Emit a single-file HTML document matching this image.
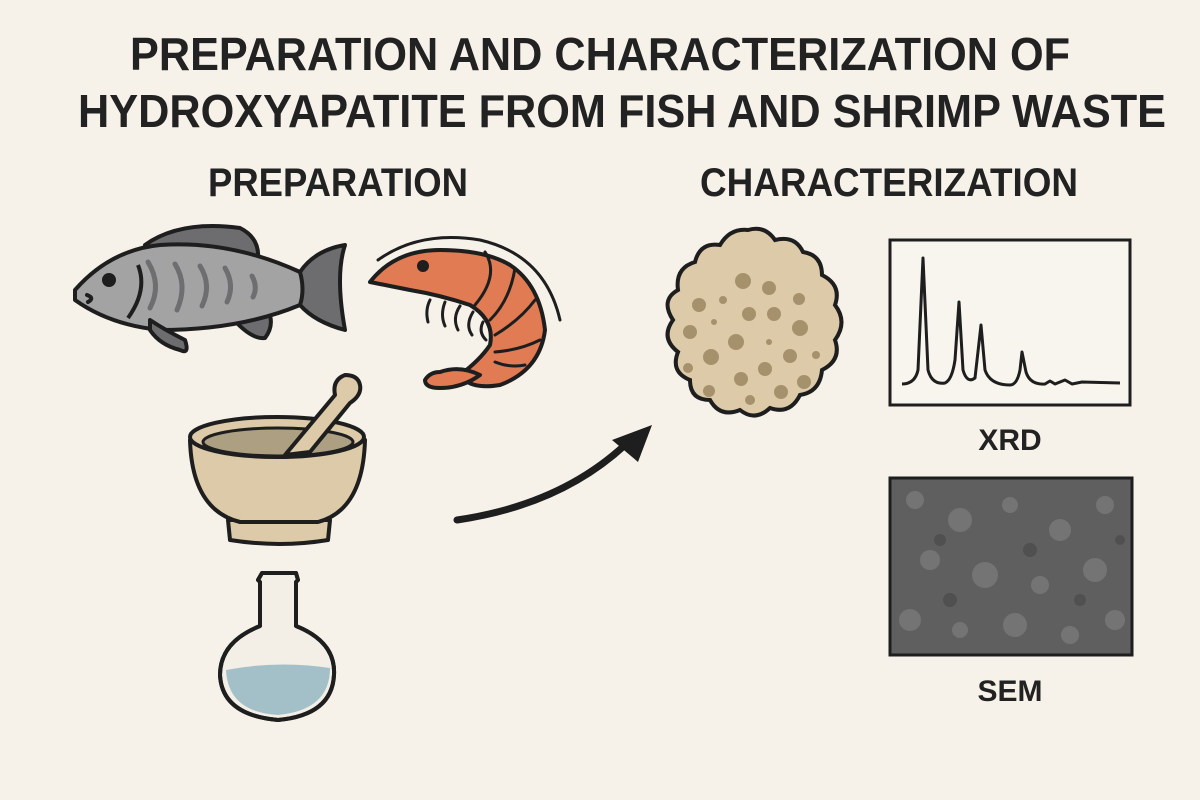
<!DOCTYPE html>
<html><head><meta charset="utf-8"><style>
html,body{margin:0;padding:0;background:#f6f2e9;}
svg{display:block}
text{font-family:"Liberation Sans",sans-serif;font-weight:bold;fill:#222;}
</style></head><body>
<svg width="1200" height="800" viewBox="0 0 1200 800" xmlns="http://www.w3.org/2000/svg">
<rect width="1200" height="800" fill="#f6f2e9"/>
<text x="600" y="70" font-size="46" text-anchor="middle" textLength="940" lengthAdjust="spacingAndGlyphs">PREPARATION AND CHARACTERIZATION OF</text>
<text x="622" y="127" font-size="46" text-anchor="middle" textLength="1088" lengthAdjust="spacingAndGlyphs">HYDROXYAPATITE FROM FISH AND SHRIMP WASTE</text>
<text x="338" y="196" font-size="40" text-anchor="middle" textLength="260" lengthAdjust="spacingAndGlyphs">PREPARATION</text>
<text x="889" y="196" font-size="40" text-anchor="middle" textLength="378" lengthAdjust="spacingAndGlyphs">CHARACTERIZATION</text>

<!-- fish -->
<g stroke="#1e1e1e" stroke-width="4" stroke-linejoin="round" stroke-linecap="round">
<path d="M145 245 Q180 220 240 228 Q260 238 258 260 L150 250 Z" fill="#6d6d6f"/>
<path d="M228 313 Q250 340 265 338 Q275 325 268 310 Z" fill="#6d6d6f"/>
<path d="M300 272 Q315 250 345 245 Q335 275 345 330 Q315 322 300 305 Z" fill="#6d6d6f"/>
<path d="M75 290 Q110 250 160 245 Q230 240 300 272 Q305 290 300 305 Q240 330 160 330 Q110 325 75 300 Z" fill="#a3a3a4"/>
<path d="M150 320 Q165 330 185 340 Q190 355 180 350 Q160 345 150 330 Z" fill="#6d6d6f"/>
<path d="M87 295 Q95 298 88 302" fill="none"/>
</g>
<circle cx="109" cy="280" r="7" fill="#1e1e1e"/>
<g stroke="#6e6e70" stroke-width="5" fill="none" stroke-linecap="round">
<path d="M148 262 Q162 285 150 308"/><path d="M175 264 Q188 285 177 310"/><path d="M200 266 Q212 285 202 306"/><path d="M225 268 Q235 285 227 302"/><path d="M252 276 Q258 287 253 297"/>
</g>
<path d="M138 265 Q148 290 128 318" stroke="#1e1e1e" stroke-width="4" fill="none"/>

<!-- shrimp -->
<g stroke="#1e1e1e" stroke-width="4" stroke-linejoin="round" stroke-linecap="round">
<path d="M370 282 Q395 250 440 250 Q485 250 510 265 Q540 285 545 330 Q540 370 500 385 Q470 390 460 375 Q480 360 490 345 Q495 320 470 305 Q440 295 410 290 Q385 285 370 282 Z" fill="#e07b53"/>
<path d="M440 372 Q460 365 480 375 Q462 388 440 388 Q425 388 425 380 Q430 372 440 372 Z" fill="#e07b53"/>
<path d="M378 260 Q420 230 480 240 Q545 255 560 320" fill="none" stroke-width="3"/>
<path d="M485 252 Q500 275 475 305 M515 268 Q510 300 490 320 M535 300 Q520 320 495 335 M540 340 Q520 350 495 352 M525 365 Q510 368 495 362" fill="none" stroke-width="3"/>
<path d="M430 300 Q425 310 428 322 M445 302 Q440 315 445 326 M460 306 Q452 318 458 330 M473 312 Q465 325 472 335 M483 322 Q478 332 486 340" fill="none" stroke-width="3"/>
</g>
<circle cx="423" cy="266" r="6" fill="#1e1e1e"/>

<!-- mortar -->
<g stroke="#1e1e1e" stroke-width="4" stroke-linejoin="round">
<path d="M228 520 L330 520 L328 540 Q280 548 230 540 Z" fill="#dccaa9"/>
<path d="M190 440 Q192 510 240 522 L318 522 Q363 510 365 440 Z" fill="#dccaa9"/>
<ellipse cx="277" cy="437" rx="87" ry="20" fill="#dccaa9"/>
<ellipse cx="278" cy="442" rx="75" ry="14" fill="#ad9f82" stroke-width="3"/>
<path d="M285 455 L335 395 Q332 380 345 375 Q358 375 360 385 Q362 395 350 403 L310 452 Z" fill="#dccaa9"/>
</g>

<!-- flask -->
<g stroke="#1e1e1e" stroke-width="4" stroke-linejoin="round">
<path d="M262 573 L296 573 L298 580 L296 582 L296 626 Q336 642 334 675 Q332 715 278 720 Q222 715 220 675 Q220 642 260 626 L260 582 L258 580 Z" fill="#f3efe6"/>
<path d="M226 670 Q278 660 330 668 Q330 710 278 715 Q228 712 226 670 Z" fill="#a3c0c9" stroke="none"/>
<path d="M262 573 L296 573 L298 580 L296 582 L296 626 Q336 642 334 675 Q332 715 278 720 Q222 715 220 675 Q220 642 260 626 L260 582 L258 580 Z" fill="none"/>
</g>

<!-- arrow -->
<path d="M457 520 Q560 505 625 445" stroke="#1e1e1e" stroke-width="7" fill="none" stroke-linecap="round"/>
<path d="M652 425 L612 440 L638 462 Z" fill="#1e1e1e"/>

<!-- HA blob -->
<path d="M748 230 Q765 225 775 240 Q795 235 803 252 Q822 255 822 275 Q842 285 835 305 Q848 322 835 340 Q842 360 822 370 Q820 392 800 395 Q790 415 770 408 Q755 422 740 410 Q720 418 710 400 Q690 400 690 380 Q670 372 678 352 Q660 338 673 320 Q660 300 678 290 Q675 268 695 262 Q700 242 720 245 Q730 228 748 230 Z" fill="#dccaa9" stroke="#1e1e1e" stroke-width="4"/>
<g fill="#a5916b">
<circle cx="743" cy="281" r="8"/><circle cx="769" cy="288" r="7"/><circle cx="699" cy="305" r="7"/><circle cx="723" cy="300" r="4"/><circle cx="799" cy="299" r="6"/><circle cx="749" cy="314" r="7"/><circle cx="774" cy="314" r="7"/><circle cx="714" cy="322" r="3"/><circle cx="690" cy="332" r="7"/><circle cx="800" cy="328" r="8"/><circle cx="736" cy="342" r="8"/><circle cx="769" cy="342" r="3"/><circle cx="711" cy="357" r="8"/><circle cx="790" cy="356" r="7"/><circle cx="816" cy="355" r="4"/><circle cx="688" cy="368" r="5"/><circle cx="765" cy="369" r="7"/><circle cx="741" cy="379" r="7"/><circle cx="804" cy="382" r="7"/><circle cx="709" cy="391" r="6"/><circle cx="781" cy="392" r="7"/><circle cx="750" cy="400" r="5"/>
</g>

<!-- XRD -->
<rect x="890" y="240" width="240" height="165" fill="#f8f5ee" stroke="#1e1e1e" stroke-width="3"/>
<path d="M902 384 Q915 384 918 370 L923 258 L928 370 Q932 385 945 383 Q952 380 955 360 L959 302 L963 370 Q967 384 975 378 L981 325 L985 370 Q990 385 1010 385 Q1017 385 1020 370 L1022 352 L1026 372 Q1030 385 1045 384 L1050 381 L1055 384 L1065 380 L1072 384 L1082 382 L1120 383" stroke="#1e1e1e" stroke-width="3" fill="none" stroke-linejoin="round"/>
<text x="1010" y="450" font-size="30" text-anchor="middle">XRD</text>

<!-- SEM -->
<rect x="890" y="478" width="242" height="177" fill="#5f5f5f" stroke="#1e1e1e" stroke-width="3"/>
<g fill="#7a7a7a" opacity="0.8">
<circle cx="915" cy="500" r="9"/><circle cx="960" cy="520" r="12"/><circle cx="1010" cy="505" r="8"/><circle cx="1060" cy="530" r="11"/><circle cx="1105" cy="505" r="9"/><circle cx="930" cy="560" r="10"/><circle cx="985" cy="575" r="13"/><circle cx="1040" cy="585" r="9"/><circle cx="1095" cy="570" r="12"/><circle cx="910" cy="620" r="11"/><circle cx="960" cy="630" r="8"/><circle cx="1015" cy="625" r="12"/><circle cx="1070" cy="635" r="9"/><circle cx="1115" cy="620" r="10"/>
</g>
<g fill="#4a4a4a" opacity="0.7">
<circle cx="940" cy="540" r="6"/><circle cx="1030" cy="550" r="7"/><circle cx="1080" cy="600" r="6"/><circle cx="950" cy="600" r="7"/><circle cx="1120" cy="540" r="5"/>
</g>
<text x="1010" y="701" font-size="30" text-anchor="middle">SEM</text>
</svg>
</body></html>
